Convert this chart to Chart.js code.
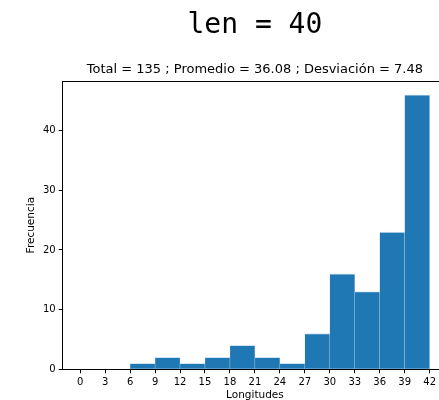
<!DOCTYPE html>
<html>
<head>
<meta charset="utf-8">
<script src="https://cdn.jsdelivr.net/npm/chart.js@4/dist/chart.umd.min.js"></script>
<style>
  html, body { margin: 0; padding: 0; background: #fff; overflow: hidden; }
  canvas { display: block; }
</style>
</head>
<body>
<canvas id="histChart" width="439" height="400"></canvas>
<script>
// histogram data
const binStarts = [6, 9, 12, 15, 18, 21, 24, 27, 30, 33, 36, 39];
const binWidth = 3;
const counts = [1, 2, 1, 2, 4, 2, 1, 6, 16, 13, 23, 46];
const xTicks = [0, 3, 6, 9, 12, 15, 18, 21, 24, 27, 30, 33, 36, 39, 42];
const yTicks = [0, 10, 20, 30, 40];

const mainTitle = 'len = 40';
const subTitle = 'Total = 135 ; Promedio = 36.08 ; Desviación = 7.48';

const textColor = '#000';
const barColor = '#1f77b4';

// the original figure is cut on the right, so the visible x range ends near 43
const xMin = -2.1;
const xMaxVisible = 43.06;
const xMaxFull = 44.1;

// titles and top spine; centred over the full (uncut) axes like matplotlib
const frameAndTitles = {
    id: 'frameAndTitles',
    afterDraw(chart) {
        const { ctx, chartArea } = chart;
        const xs = chart.scales.x;
        const cx = (chartArea.left + xs.getPixelForValue(xMaxFull)) / 2;
        ctx.save();
        // clear the strip at the cut edge (no right spine in the original)
        ctx.fillStyle = '#fff';
        ctx.fillRect(xs.getPixelForValue(42) + 2, chartArea.top, chart.width, chartArea.bottom - chartArea.top - 1);

        ctx.strokeStyle = '#000';
        ctx.lineWidth = 1;
        ctx.beginPath();
        ctx.moveTo(chartArea.left, chartArea.top + 0.5);
        ctx.lineTo(chart.width, chartArea.top + 0.5);
        ctx.stroke();

        ctx.fillStyle = textColor;
        ctx.textAlign = 'center';
        ctx.textBaseline = 'middle';
        ctx.font = '28px "DejaVu Sans Mono"';
        ctx.fillText(mainTitle, cx, 26);
        ctx.font = '13px "DejaVu Sans"';
        ctx.fillText(subTitle, cx, 70);

        ctx.font = '10.5px "DejaVu Sans"';
        ctx.fillText('Longitudes', cx, 395);
        ctx.translate(31, (chartArea.top + chartArea.bottom) / 2);
        ctx.rotate(-Math.PI / 2);
        ctx.fillText('Frecuencia', 0, 0);
        ctx.restore();
    }
};

const ctx = document.getElementById('histChart').getContext('2d');
const myChart = new Chart(ctx, {
    type: 'bar',
    data: {
        datasets: [{
            label: 'Frecuencia',
            data: binStarts.map((s, i) => ({ x: s + binWidth / 2, y: counts[i] })),
            backgroundColor: barColor,
            borderColor: 'rgba(170, 205, 235, 0.55)',
            borderWidth: { top: 1, left: 0.5, right: 0.5, bottom: 0 },
            barPercentage: 1,
            categoryPercentage: 1,
            grouped: false
        }]
    },
    options: {
        responsive: false,
        animation: false,
        layout: { padding: { top: 81, left: 0, right: 0, bottom: 0 } },
        plugins: {
            legend: { display: false },
            tooltip: { enabled: false }
        },
        scales: {
            x: {
                type: 'linear',
                min: xMin,
                max: xMaxVisible,
                offset: false,
                afterBuildTicks: (scale) => { scale.ticks = xTicks.map(v => ({ value: v })); },
                afterFit: (scale) => { scale.height = 30.7; },
                grid: { display: true, offset: false, drawOnChartArea: false, drawTicks: true, tickLength: 4, color: '#000' },
                border: { display: true, color: '#000', width: 1 },
                ticks: { color: textColor, font: { family: 'DejaVu Sans', size: 10 }, padding: 3, maxRotation: 0, autoSkip: false }
            },
            y: {
                min: 0,
                max: 48.3,
                afterBuildTicks: (scale) => { scale.ticks = yTicks.map(v => ({ value: v })); },
                afterFit: (scale) => { scale.width = 62.7; },
                grid: { display: true, offset: false, drawOnChartArea: false, drawTicks: true, tickLength: 4, color: '#000' },
                border: { display: true, color: '#000', width: 1 },
                ticks: { color: textColor, font: { family: 'DejaVu Sans', size: 10 }, padding: 3 }
            }
        }
    },
    plugins: [frameAndTitles]
});
</script>
</body>
</html>
